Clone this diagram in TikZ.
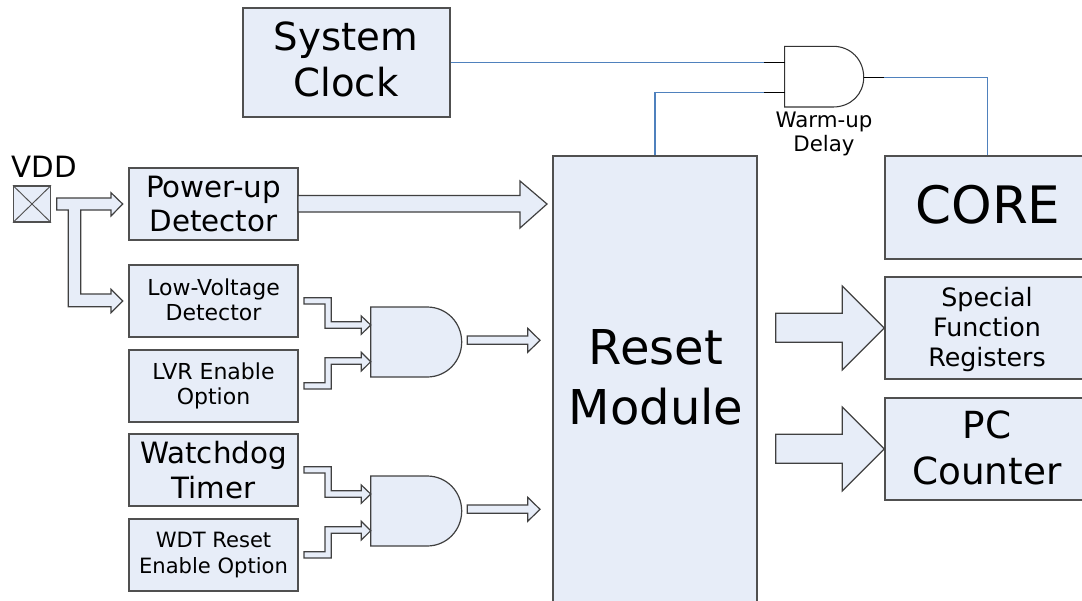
\documentclass[tikz,border=0pt]{standalone}
\usepackage{fontspec}
\setmainfont{DejaVu Sans}
\definecolor{boxfill}{HTML}{E7EDF8}
\definecolor{boxline}{HTML}{505050}
\definecolor{wire}{HTML}{4F81BD}
\newcommand{\fs}[2]{\fontsize{#1}{#2}\selectfont}
\newcommand{\pbx}[7]{%
  \node[pbox, minimum width={(#4-#2)*0.75pt}, minimum height={(#5-#3)*0.75pt}, font=\fs#6] (#1) at ({(#2+#4)/2},{(#3+#5)/2}) {#7};
}
\newcommand{\andgate}[1]{%
  \draw[gateline] (370.7,#1+307) -- (427,#1+307)
    .. controls (447,#1+307) and (461.7,#1+323) .. (461.7,#1+342)
    .. controls (461.7,#1+361) and (447,#1+377) .. (427,#1+377)
    -- (370.7,#1+377) -- cycle;
  \draw[blockarrow] (304,#1+297.7) -- (331.3,#1+297.7) -- (331.3,#1+321.7) -- (361.3,#1+321.7) -- (361.3,#1+316) -- (370.7,#1+325) -- (361.3,#1+334.3) -- (361.3,#1+328.3) -- (325,#1+328.3) -- (325,#1+304) -- (304,#1+304) -- cycle;
  \draw[blockarrow] (304,#1+389) -- (331.3,#1+389) -- (331.3,#1+364.3) -- (361.3,#1+364.3) -- (361.3,#1+371) -- (370.7,#1+361.7) -- (361.3,#1+352.3) -- (361.3,#1+357.7) -- (325,#1+357.7) -- (325,#1+382.7) -- (304,#1+382.7) -- cycle;
  \draw[blockarrow] (467.3,#1+336) -- (527.7,#1+336) -- (527.7,#1+328.3) -- (540,#1+340.3) -- (527.7,#1+352.3) -- (527.7,#1+344.3) -- (467.3,#1+344.3) -- cycle;
}
\newcommand{\bigarrow}[1]{%
  \draw[blockarrow] (775.7,#1+313.3) -- (842.3,#1+313.3) -- (842.3,#1+286) -- (884.3,#1+328) -- (842.3,#1+370) -- (842.3,#1+342.3) -- (775.7,#1+342.3) -- cycle;
}
\tikzset{
  x=0.75pt, y=-0.75pt,
  pbox/.style={draw=boxline, fill=boxfill, line width=0.8pt, inner sep=0pt, align=center, text=black},
  blockarrow/.style={draw=black!75, fill=boxfill, line width=0.9pt, line join=miter},
  gateline/.style={draw=black!75, fill=boxfill, line width=0.9pt},
  wire/.style={draw=wire, line width=0.8pt},
  stub/.style={draw=black, line width=0.8pt},
  lbl/.style={inner sep=0pt, align=center, text=black},
}
\begin{document}
\begin{tikzpicture}
\useasboundingbox (0,0) rectangle (1082,600);
\clip (0,0) rectangle (1082,600);
% boxes
\pbx{clock}{243}{8}{450}{117}{{29}{34.5}}{}
\node[lbl, font=\fs{29}{34.5}] (clocklbl) at (346,59.5) {System\\Clock};
\pbx{power}{129}{168}{298}{240}{{22}{26}}{Power-up\\Detector}
\pbx{lowv}{129}{265}{298}{337}{{16.5}{19}}{}
\node[lbl, font=\fs{16.5}{19}] (lowvlbl) at (213.5,300) {Low-Voltage\\Detector};
\pbx{lvr}{129}{350}{298}{422}{{16.5}{19}}{LVR Enable\\Option}
\pbx{wdog}{129}{434}{298}{506}{{22}{26}}{Watchdog\\Timer}
\pbx{wdtr}{129}{519}{298}{591}{{15.8}{20}}{WDT Reset\\Enable Option}
\pbx{resetbox}{553}{156}{757}{604}{{36}{45}}{}
\node[lbl, font=\fs{36}{45}] (resetlbl) at (656,377) {Reset\\Module};
\pbx{corebox}{885}{156}{1086}{259}{{38.7}{46}}{}
\node[lbl, font=\fs{38.7}{46}] (corelbl) at (988,205) {CORE};
\pbx{sfrbox}{885}{277}{1086}{379}{{19}{22.5}}{}
\node[lbl, font=\fs{19}{22.5}] (sfrlbl) at (987,329.5) {Special\\Function\\Registers};
\pbx{pcbox}{885}{398}{1086}{500}{{28}{34}}{}
\node[lbl, font=\fs{28}{34}] (pclbl) at (987,448) {PC\\Counter};
% VDD pad
\node[lbl, font=\fs{22}{25}] (vddlbl) at (44,167) {VDD};
\pbx{pad}{13.5}{186}{50.5}{222}{{10}{12}}{}
\draw[boxline, line width=0.7pt] (pad.north west) -- (pad.south east) (pad.north east) -- (pad.south west);
% VDD arrow
\draw[blockarrow] (56.7,198) -- (111,198) -- (111,192.7) -- (122.7,204) -- (111,216) -- (111,210) -- (80.7,210) -- (80.7,294) -- (111,294) -- (111,289.3) -- (122.7,301) -- (111,312.7) -- (111,306.7) -- (68.3,306.7) -- (68.3,210) -- (56.7,210) -- cycle;
% power arrow
\draw[blockarrow] (298,195.5) -- (520,195.5) -- (520,181) -- (547,204) -- (520,228) -- (520,212) -- (298,212) -- cycle;
% gates
\andgate{0}
\andgate{169}
% right arrows
\bigarrow{0}
\bigarrow{121}
% warm-up gate
\coordinate (warmA) at (784.7,62.3);
\coordinate (warmB) at (784.7,92.3);
\coordinate (warmO) at (863.7,77.3);
\coordinate (stubA) at (764,62.3);
\coordinate (stubB) at (764,92.3);
\coordinate (stubO) at (884.3,77.3);
\coordinate (bendO) at (987.3,77.3);
\draw[draw=black!80, fill=white, line width=0.8pt] (784.7,46.3) -- (833,46.3)
  .. controls (851,46.3) and (863.7,60) .. (863.7,77.3)
  .. controls (863.7,94) and (851,107) .. (833,107) -- (784.7,107) -- cycle;
\draw[wire] (clock.east |- stubA) -- (stubA);
\draw[wire] (resetbox.north) -- (resetbox.north |- stubB) -- (stubB);
\draw[wire] (stubO) -- (bendO) -- (bendO |- corebox.north);
\draw[stub] (stubA) -- (warmA);
\draw[stub] (stubB) -- (warmB);
\draw[stub] (warmO) -- (stubO);
\node[lbl, font=\fs{16}{18.5}] (warmlbl) at (824,134) {Warm-up\\Delay};
\end{tikzpicture}
\end{document}
